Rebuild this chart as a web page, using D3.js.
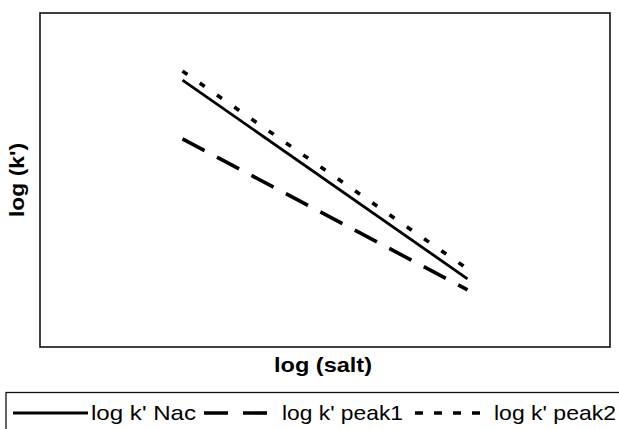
<!DOCTYPE html>
<html>
<head>
<meta charset="utf-8">
<script src="https://cdn.jsdelivr.net/npm/d3@7"></script>
<style>
  html, body { margin: 0; padding: 0; background: #fff; }
  svg { display: block; font-family: "Liberation Sans", Arial, Helvetica, sans-serif; }
</style>
</head>
<body>
<svg id="chart" width="619" height="429"></svg>
<script>
// ---- data ----
const xValues = [2.5, 7.5];               // log (salt)
const nacValues = [7.99, 2.04];           // log k' Nac
const peak1Values = [6.23, 1.71];         // log k' peak1
const peak2Values = [8.26, 2.34];         // log k' peak2
const seriesNames = ["log k' Nac", "log k' peak1", "log k' peak2"];
const xTitle = "log (salt)";
const yTitle = "log (k')";

// ---- layout ----
const svg = d3.select("#chart");
const plot = { left: 40, top: 13, right: 610, bottom: 347 };

const x = d3.scaleLinear().domain([0, 10]).range([plot.left, plot.right]);
const y = d3.scaleLinear().domain([0, 10]).range([plot.bottom, plot.top]);

svg.append("rect").attr("width", 619).attr("height", 429).attr("fill", "#fff");

// plot frame
svg.append("rect")
  .attr("x", plot.left).attr("y", plot.top)
  .attr("width", plot.right - plot.left).attr("height", plot.bottom - plot.top)
  .attr("fill", "none").attr("stroke", "#111").attr("stroke-width", 1.6);

const styles = [
  { values: nacValues, width: 2.8, dash: null, legendDash: null },
  { values: peak1Values, width: 3.6, dash: "25,14", legendDash: "24,15" },
  { values: peak2Values, width: 3.6, dash: "6,15", legendDash: "8,11" }
];

const line = d3.line().x(d => x(d[0])).y(d => y(d[1]));

styles.forEach(s => {
  const pts = xValues.map((xv, i) => [xv, s.values[i]]);
  svg.append("path")
    .attr("d", line(pts))
    .attr("fill", "none")
    .attr("stroke", "#000")
    .attr("stroke-width", s.width)
    .attr("stroke-dasharray", s.dash);
});

// axis titles
svg.append("text")
  .attr("x", 323).attr("y", 372)
  .attr("text-anchor", "middle")
  .attr("font-weight", "bold").attr("font-size", 21)
  .attr("textLength", 98).attr("lengthAdjust", "spacingAndGlyphs")
  .text(xTitle);

svg.append("text")
  .attr("transform", "translate(24,180) rotate(-90)")
  .attr("text-anchor", "middle")
  .attr("font-weight", "bold").attr("font-size", 21)
  .attr("textLength", 74).attr("lengthAdjust", "spacingAndGlyphs")
  .text(yTitle);

// legend
svg.append("rect")
  .attr("x", 6).attr("y", 392.5)
  .attr("width", 640).attr("height", 60)
  .attr("fill", "none").attr("stroke", "#111").attr("stroke-width", 1.3);

const legendItems = [
  { x1: 13, x2: 88, tx: 91, tw: 105 },
  { x1: 204, x2: 268, tx: 282, tw: 121 },
  { x1: 415, x2: 482, tx: 494, tw: 122 }
];
legendItems.forEach((li, i) => {
  svg.append("line")
    .attr("x1", li.x1).attr("x2", li.x2)
    .attr("y1", 413).attr("y2", 413)
    .attr("stroke", "#000")
    .attr("stroke-width", i === 0 ? 2.8 : 3.6)
    .attr("stroke-dasharray", styles[i].legendDash);
  svg.append("text")
    .attr("x", li.tx).attr("y", 420)
    .attr("font-size", 21)
    .attr("textLength", li.tw).attr("lengthAdjust", "spacingAndGlyphs")
    .text(seriesNames[i]);
});
</script>
</body>
</html>
